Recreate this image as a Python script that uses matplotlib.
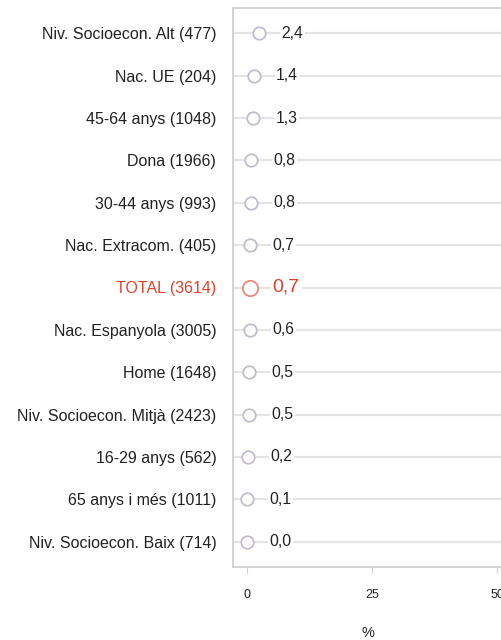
import matplotlib.pyplot as plt

categories = ['Niv. Socioecon. Alt (477)', 'Nac. UE (204)', '45-64 anys (1048)',
              'Dona (1966)', '30-44 anys (993)', 'Nac. Extracom. (405)',
              'TOTAL (3614)', 'Nac. Espanyola (3005)', 'Home (1648)',
              'Niv. Socioecon. Mitjà (2423)', '16-29 anys (562)',
              '65 anys i més (1011)', 'Niv. Socioecon. Baix (714)']
values = [2.4, 1.4, 1.3, 0.8, 0.8, 0.7, 0.7, 0.6, 0.5, 0.5, 0.2, 0.1, 0.0]
xticks = [0, 25, 50]

plt.rcParams['font.family'] = ['Liberation Sans', 'DejaVu Sans']

xmin, xmax = -2.8, 51.3
fig = plt.figure(figsize=(5.02, 6.40), dpi=100)
ax = fig.add_axes([233/502, 1-567/640, (xmax-xmin)*5/502, (567-8)/640])

n = len(categories)
ys = list(range(n-1, -1, -1))
red = '#e2402a'
for y, cat, v in zip(ys, categories, values):
    total = cat.startswith('TOTAL')
    ax.axhline(y, color='#e4e4e4', lw=1.6, zorder=1)
    ax.plot(v, y, 'o', ms=11 if total else 9, mfc='white',
            mec='#e88a7c' if total else '#c4bccb', mew=1.3, zorder=3)
    ax.annotate(f'{v:.1f}'.replace('.', ','), (v, y), xytext=(16, 0),
                textcoords='offset points', va='center', ha='left',
                fontsize=14 if total else 11.3, color=red if total else '#222222',
                bbox=dict(boxstyle='square,pad=0.1', fc='white', ec='none'), zorder=4)

ax.set_yticks(ys)
ax.set_yticklabels(categories, fontsize=11.5)
for lab in ax.get_yticklabels():
    if lab.get_text().startswith('TOTAL'):
        lab.set_color(red)
    else:
        lab.set_color('#222222')
ax.tick_params(axis='y', length=0, pad=12)

ax.set_xticks(xticks)
ax.set_xticklabels([str(t) for t in xticks], fontsize=9, color='#222222')
ax.tick_params(axis='x', length=4, color='#d0d0d0', pad=12)
ax.set_xlim(xmin, xmax)
ax.set_ylim(-0.6, n - 0.4)
ax.set_xlabel('%', fontsize=10.5, color='#222222', labelpad=18)

for s in ax.spines.values():
    s.set_color('#cccccc')
    s.set_linewidth(1.2)

fig.savefig('out.png', dpi=100)
